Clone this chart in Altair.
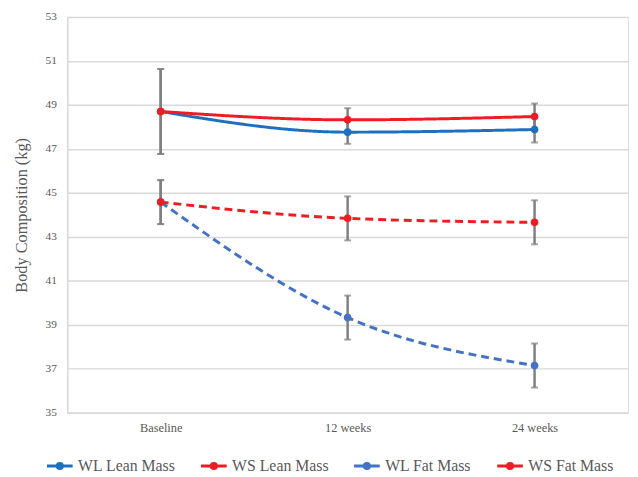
import altair as alt
import pandas as pd

times = ["Baseline", "12 weeks", "24 weeks"]
series = ["WL Lean Mass", "WS Lean Mass", "WL Fat Mass", "WS Fat Mass"]
wl_lean = [48.70, 47.76, 47.88]
ws_lean = [48.70, 48.32, 48.47]
wl_fat = [44.58, 39.33, 37.15]
ws_fat = [44.58, 43.84, 43.66]
wl_lean_err = [1.93, 0.53, 0.59]
ws_lean_err = [1.93, 0.53, 0.59]
wl_fat_err = [1.0, 1.0, 1.0]
ws_fat_err = [1.0, 1.0, 1.0]

colors = ["#1F6FC0", "#EE1D25", "#4472C4", "#EE1D25"]
dashes = ["solid", "solid", "dashed", "dashed"]

rows = []
for s, vals, errs, d in zip(series, [wl_lean, ws_lean, wl_fat, ws_fat],
                            [wl_lean_err, ws_lean_err, wl_fat_err, ws_fat_err], dashes):
    for i, (t, v, e) in enumerate(zip(times, vals, errs)):
        rows.append({"Time": t, "idx": i, "Series": s, "Value": v,
                     "lo": v - e, "hi": v + e, "Dash": d})
df = pd.DataFrame(rows)

FONT = "Liberation Serif"
x = alt.X("Time:N", sort=times, scale=alt.Scale(type="point", padding=0.5),
          axis=alt.Axis(title=None, labelFont=FONT, labelFontSize=12.5, labelColor="#595959",
                        labelAngle=0, ticks=False, domainColor="#d9d9d9", domainWidth=1.5,
                        labelPadding=9, grid=False))
yscale = alt.Scale(domain=[35, 53], nice=False, zero=False, padding=0)

color = alt.Color("Series:N", sort=series,
                  scale=alt.Scale(domain=series, range=colors),
                  legend=alt.Legend(title=None, orient="none", direction="horizontal",
                                    legendX=-22, legendY=440,
                                    labelFont=FONT, labelFontSize=16, labelColor="#595959",
                                    symbolType="M-1,0H1M-0.2,0A0.2,0.2,0,1,1,0.2,0A0.2,0.2,0,1,1,-0.2,0Z",
                                    symbolSize=676, symbolStrokeWidth=3,
                                    labelOffset=4, columnPadding=19))

base = alt.Chart(df)

err_rule = base.mark_rule(color="#7F7F7F", strokeWidth=2.5).encode(
    x=x,
    y=alt.Y("lo:Q", scale=yscale,
            axis=alt.Axis(title="Body Composition (kg)", titleFont=FONT, titleFontSize=16.5,
                          titleFontWeight="normal", titleColor="#595959", titlePadding=16,
                          labelFont=FONT, labelFontSize=11.5, labelColor="#595959",
                          values=list(range(35, 54, 2)), ticks=False, labelPadding=11,
                          domainColor="#d9d9d9", domainWidth=1.5,
                          gridColor="#d9d9d9", gridWidth=1.5)),
    y2="hi:Q",
)
cap_lo = base.mark_tick(color="#7F7F7F", size=7, thickness=2).encode(x=x, y=alt.Y("lo:Q", scale=yscale))
cap_hi = base.mark_tick(color="#7F7F7F", size=7, thickness=2).encode(x=x, y=alt.Y("hi:Q", scale=yscale))

lines = base.mark_line(strokeWidth=3, interpolate="monotone").encode(
    x=x,
    y=alt.Y("Value:Q", scale=yscale),
    color=color,
    strokeDash=alt.StrokeDash("Dash:N", scale=alt.Scale(domain=["solid", "dashed"],
                                                        range=[[1, 0], [8, 5]]), legend=None),
    detail="Series:N",
    order=alt.Order("idx:Q"),
)
points = base.mark_point(filled=True, size=60, opacity=1).encode(
    x=x,
    y=alt.Y("Value:Q", scale=yscale),
    color=color,
)

chart = alt.layer(err_rule, cap_lo, cap_hi, lines, points).properties(
    width=568, height=401,
    autosize=alt.AutoSizeParams(type="none"),
    padding={"left": 60, "top": 6, "right": 2, "bottom": 62},
).configure_view(stroke=None).configure(background="white")

chart.save("out.html", embed_options={"renderer": "svg", "actions": False})
